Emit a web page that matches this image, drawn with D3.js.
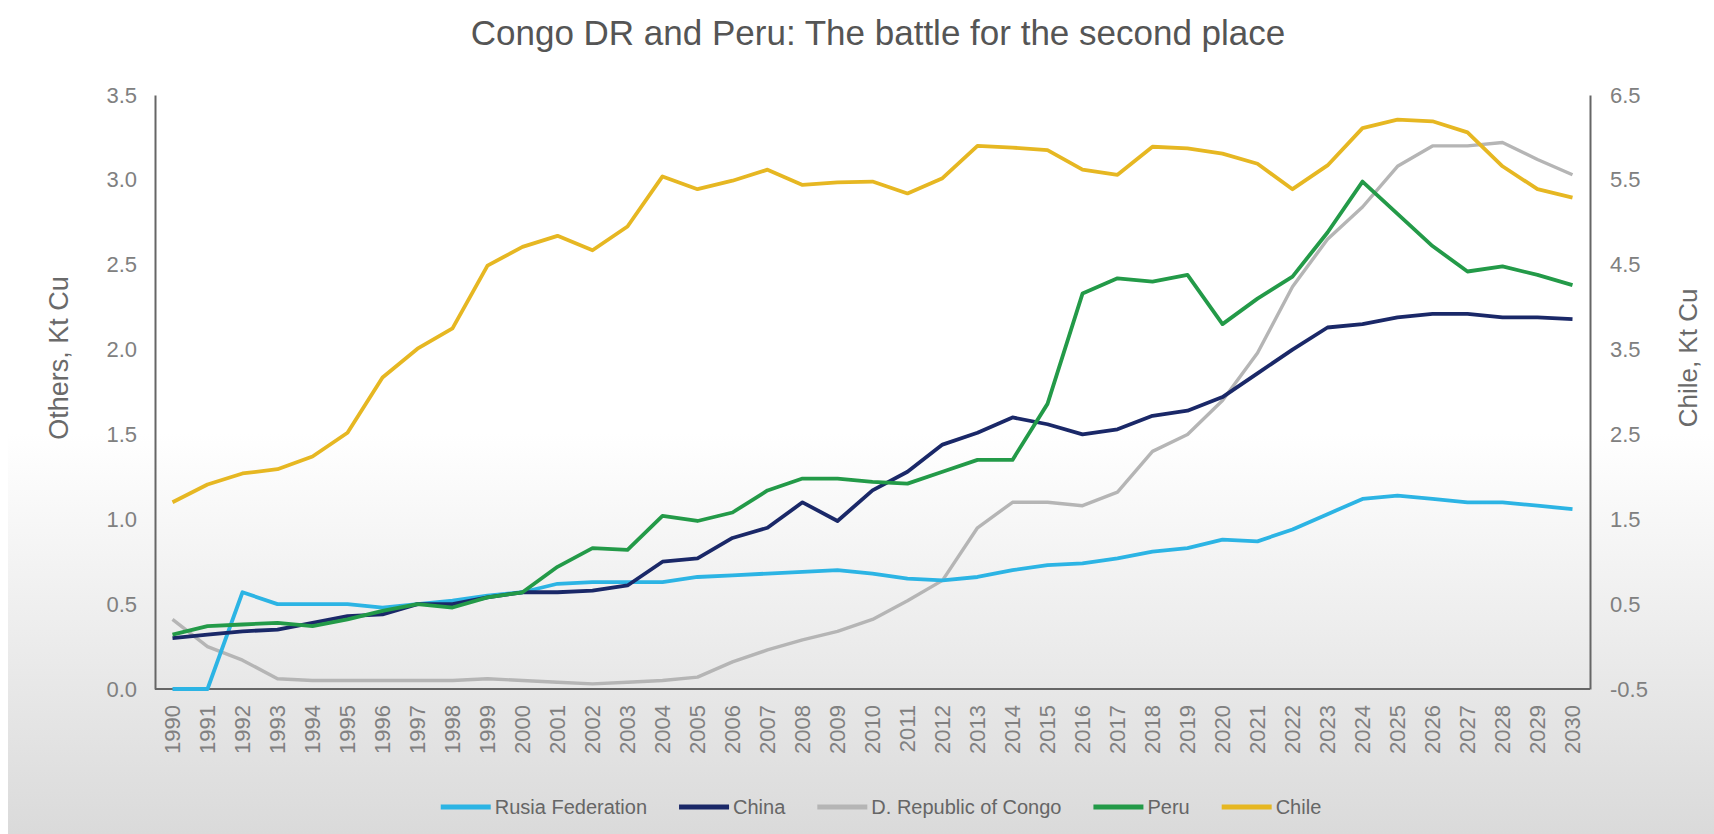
<!DOCTYPE html>
<html>
<head>
<meta charset="utf-8">
<script src="https://cdn.jsdelivr.net/npm/d3@7"></script>
<style>
  body { margin: 0; background: #fff; }
  svg { display: block; font-family: "Liberation Sans", Arial, sans-serif; }
</style>
</head>
<body>
<div id="chart"></div>
<script>
// Years on the category axis
const years = d3.range(1990, 2031);

// Left axis series (Kt Cu)
const russia = [0.00, 0.00, 0.57, 0.50, 0.50, 0.50, 0.48, 0.50, 0.52, 0.55, 0.57, 0.62, 0.63, 0.63, 0.63, 0.66, 0.67, 0.68, 0.69, 0.70,
  0.68, 0.65, 0.64, 0.66, 0.70, 0.73, 0.74, 0.77, 0.81, 0.83, 0.88, 0.87, 0.94, 1.03, 1.12, 1.14, 1.12, 1.10, 1.10, 1.08, 1.06];
const china = [0.30, 0.32, 0.34, 0.35, 0.39, 0.43, 0.44, 0.50, 0.50, 0.54, 0.57, 0.57, 0.58, 0.61, 0.75, 0.77, 0.89, 0.95, 1.10, 0.99,
  1.17, 1.28, 1.44, 1.51, 1.60, 1.56, 1.50, 1.53, 1.61, 1.64, 1.72, 1.86, 2.00, 2.13, 2.15, 2.19, 2.21, 2.21, 2.19, 2.19, 2.18];
const congo = [0.41, 0.25, 0.17, 0.06, 0.05, 0.05, 0.05, 0.05, 0.05, 0.06, 0.05, 0.04, 0.03, 0.04, 0.05, 0.07, 0.16, 0.23, 0.29, 0.34,
  0.41, 0.52, 0.64, 0.95, 1.10, 1.10, 1.08, 1.16, 1.40, 1.50, 1.70, 1.98, 2.37, 2.65, 2.84, 3.08, 3.20, 3.20, 3.22, 3.12, 3.03];
const peru = [0.32, 0.37, 0.38, 0.39, 0.37, 0.41, 0.46, 0.50, 0.48, 0.54, 0.57, 0.72, 0.83, 0.82, 1.02, 0.99, 1.04, 1.17, 1.24, 1.24,
  1.22, 1.21, 1.28, 1.35, 1.35, 1.68, 2.33, 2.42, 2.40, 2.44, 2.15, 2.30, 2.43, 2.69, 2.99, 2.80, 2.61, 2.46, 2.49, 2.44, 2.38];

// Right axis series (Kt Cu)
const chile = [1.70, 1.91, 2.04, 2.09, 2.24, 2.52, 3.17, 3.51, 3.75, 4.49, 4.71, 4.84, 4.67, 4.95, 5.54, 5.39, 5.49, 5.62, 5.44, 5.47,
  5.48, 5.34, 5.52, 5.90, 5.88, 5.85, 5.62, 5.56, 5.89, 5.87, 5.81, 5.69, 5.39, 5.67, 6.11, 6.21, 6.19, 6.06, 5.66, 5.39, 5.29];

const leftTicks = [0, 0.5, 1, 1.5, 2, 2.5, 3, 3.5];
const rightTicks = [-0.5, 0.5, 1.5, 2.5, 3.5, 4.5, 5.5, 6.5];

const seriesNames = ["Rusia Federation", "China", "D. Republic of Congo", "Peru", "Chile"];

const width = 1714, height = 834;
const plot = { left: 155, right: 1590, top: 95, bottom: 689 };

const series = [
  { name: seriesNames[0], values: russia, color: "#2cb4e4", axis: "left", w: 3.8 },
  { name: seriesNames[1], values: china, color: "#1a2868", axis: "left", w: 3.8 },
  { name: seriesNames[2], values: congo, color: "#b5b5b5", axis: "left", w: 3.4 },
  { name: seriesNames[3], values: peru, color: "#239a48", axis: "left", w: 3.8 },
  { name: seriesNames[4], values: chile, color: "#e6b722", axis: "right", w: 3.8 }
];

const svg = d3.select("#chart").append("svg")
  .attr("width", width)
  .attr("height", height);

// Background: white on top, fading to light grey at the bottom
const grad = svg.append("defs").append("linearGradient")
  .attr("id", "bg").attr("x1", 0).attr("y1", 0).attr("x2", 0).attr("y2", 1);
grad.append("stop").attr("offset", 0).attr("stop-color", "#ffffff");
grad.append("stop").attr("offset", 0.52).attr("stop-color", "#ffffff");
grad.append("stop").attr("offset", 0.78).attr("stop-color", "#ebebeb");
grad.append("stop").attr("offset", 1).attr("stop-color", "#dadada");

svg.append("rect").attr("width", width).attr("height", height).attr("fill", "#fff");
svg.append("rect").attr("x", 8).attr("width", width - 8).attr("height", height).attr("fill", "url(#bg)");

// Scales
const x = d3.scaleBand().domain(years).range([plot.left, plot.right]);
const yL = d3.scaleLinear().domain([0, 3.5]).range([plot.bottom, plot.top]);
const yR = d3.scaleLinear().domain([-0.5, 6.5]).range([plot.bottom, plot.top]);
const cx = d => x(d) + x.bandwidth() / 2;

// plain hyphen for negatives, like the original
const fmt = d => d3.format(".1f")(d).replace("\u2212", "-");

// Title
svg.append("text")
  .attr("x", 878).attr("y", 45)
  .attr("text-anchor", "middle")
  .style("font-size", "35px")
  .style("fill", "#555")
  .text("Congo DR and Peru: The battle for the second place");

// Axes
const axisColor = "#666";
const tickColor = "#808080";

const gL = svg.append("g")
  .attr("transform", `translate(${plot.left},0)`)
  .call(d3.axisLeft(yL).tickValues(leftTicks).tickFormat(fmt).tickSize(0).tickPadding(18));
const gR = svg.append("g")
  .attr("transform", `translate(${plot.right},0)`)
  .call(d3.axisRight(yR).tickValues(rightTicks).tickFormat(fmt).tickSize(0).tickPadding(20));
const gB = svg.append("g")
  .attr("transform", `translate(0,${plot.bottom})`)
  .call(d3.axisBottom(x).tickSize(0));

gB.selectAll("text")
  .attr("transform", "rotate(-90)")
  .attr("x", -16).attr("y", 0).attr("dy", "0.35em")
  .style("text-anchor", "end");

[gL, gR, gB].forEach(g => {
  g.select(".domain").attr("stroke", axisColor).attr("stroke-width", 2);
  g.selectAll("text").style("font-size", "22px").style("fill", tickColor).style("font-family", "Liberation Sans, Arial, sans-serif");
});
gB.select(".domain").attr("d", `M${plot.left},0H${plot.right}`);

// Axis titles
svg.append("text")
  .attr("transform", "translate(68,358) rotate(-90)")
  .attr("text-anchor", "middle")
  .style("font-size", "27px").style("fill", "#6a6a6a")
  .text("Others, Kt Cu");
svg.append("text")
  .attr("transform", "translate(1697,358) rotate(-90)")
  .attr("text-anchor", "middle")
  .style("font-size", "26px").style("fill", "#6a6a6a")
  .text("Chile, Kt Cu");

// Lines
const lineFor = s => d3.line()
  .x((v, i) => cx(years[i]))
  .y(v => (s.axis === "left" ? yL(v) : yR(v)));

const drawOrder = [2, 0, 1, 3, 4];
drawOrder.forEach(k => {
  const s = series[k];
  svg.append("path")
    .datum(s.values)
    .attr("fill", "none")
    .attr("stroke", s.color)
    .attr("stroke-width", s.w)
    .attr("stroke-linejoin", "round")
    .attr("d", lineFor(s));
});

// Legend
const legend = svg.append("g").attr("transform", "translate(0,807)");
const lineW = 50, textGap = 4, itemGap = 32;
let lx = 0;
const items = [];
series.forEach(s => {
  const g = legend.append("g");
  g.append("line")
    .attr("x1", 0).attr("x2", lineW).attr("y1", 0).attr("y2", 0)
    .attr("stroke", s.color).attr("stroke-width", 5);
  const t = g.append("text")
    .attr("x", lineW + textGap).attr("dy", "0.35em")
    .style("font-size", "20px").style("fill", "#666")
    .text(s.name);
  const w = lineW + textGap + t.node().getComputedTextLength();
  items.push({ g, x: lx });
  lx += w + itemGap;
});
const total = lx - itemGap;
const startX = 881 - total / 2;
items.forEach(it => it.g.attr("transform", `translate(${startX + it.x},0)`));
</script>
</body>
</html>
